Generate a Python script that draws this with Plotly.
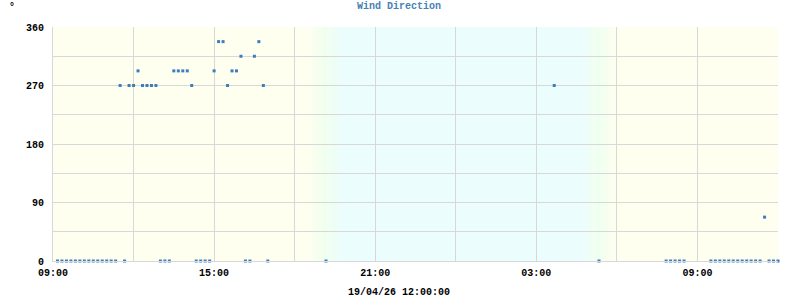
import plotly.graph_objects as go
from datetime import datetime, timedelta

# ---- data ----
times = [
    "2026-04-18 09:10", "2026-04-18 09:20", "2026-04-18 09:30", "2026-04-18 09:40",
    "2026-04-18 09:50", "2026-04-18 10:00", "2026-04-18 10:10", "2026-04-18 10:20",
    "2026-04-18 10:30", "2026-04-18 10:40", "2026-04-18 10:50", "2026-04-18 11:00",
    "2026-04-18 11:10", "2026-04-18 11:20", "2026-04-18 11:30", "2026-04-18 11:40",
    "2026-04-18 11:50", "2026-04-18 12:00", "2026-04-18 12:10", "2026-04-18 12:20",
    "2026-04-18 12:30", "2026-04-18 12:40", "2026-04-18 12:50", "2026-04-18 13:00",
    "2026-04-18 13:10", "2026-04-18 13:20", "2026-04-18 13:30", "2026-04-18 13:40",
    "2026-04-18 13:50", "2026-04-18 14:00", "2026-04-18 14:10", "2026-04-18 14:20",
    "2026-04-18 14:30", "2026-04-18 14:40", "2026-04-18 14:50", "2026-04-18 15:00",
    "2026-04-18 15:10", "2026-04-18 15:20", "2026-04-18 15:30", "2026-04-18 15:40",
    "2026-04-18 15:50", "2026-04-18 16:00", "2026-04-18 16:10", "2026-04-18 16:20",
    "2026-04-18 16:30", "2026-04-18 16:40", "2026-04-18 16:50", "2026-04-18 17:00",
    "2026-04-18 19:10",
    "2026-04-19 03:40",
    "2026-04-19 05:20",
    "2026-04-19 07:50", "2026-04-19 08:00", "2026-04-19 08:10", "2026-04-19 08:20",
    "2026-04-19 08:30",
    "2026-04-19 09:30", "2026-04-19 09:40", "2026-04-19 09:50", "2026-04-19 10:00",
    "2026-04-19 10:10", "2026-04-19 10:20", "2026-04-19 10:30", "2026-04-19 10:40",
    "2026-04-19 10:50", "2026-04-19 11:00", "2026-04-19 11:10", "2026-04-19 11:20",
    "2026-04-19 11:30", "2026-04-19 11:40", "2026-04-19 11:50", "2026-04-19 12:00",
]
direction = [
    0, 0, 0, 0, 0, 0, 0, 0, 0, 0, 0, 0, 0, 0,
    270, 0, 270, 270, 292.5, 270, 270, 270, 270, 0, 0, 0,
    292.5, 292.5, 292.5, 292.5, 270, 0, 0, 0, 0, 292.5, 337.5, 337.5,
    270, 292.5, 292.5, 315, 0, 0, 315, 337.5, 270, 0,
    0,
    270,
    0,
    0, 0, 0, 0, 0,
    0, 0, 0, 0, 0, 0, 0, 0, 0, 0, 0, 0,
    67.5, 0, 0, 0,
]
x_tickvals = [
    "2026-04-18 09:00", "2026-04-18 12:00", "2026-04-18 15:00", "2026-04-18 18:00",
    "2026-04-18 21:00", "2026-04-19 00:00", "2026-04-19 03:00", "2026-04-19 06:00",
    "2026-04-19 09:00", "2026-04-19 12:00",
]
x_ticktext = ["09:00", "", "15:00", "", "21:00", "", "03:00", "", "09:00", ""]
y_tickvals = [0, 45, 90, 135, 180, 225, 270, 315, 360]
y_ticktext = ["0", "", "90", "", "180", "", "270", "", "360"]
x_start = "2026-04-18 09:00"
x_end = "2026-04-19 12:00"
date_label = "19/04/26 12:00:00"

# ---- styling ----
DAY = (255, 255, 240)
MID = (239, 255, 239)
NIGHT = (236, 253, 253)
FONT = "Liberation Mono, Courier New, monospace"

def mix(a, b, t):
    return "rgb(%d,%d,%d)" % tuple(round(a[i] + (b[i] - a[i]) * t) for i in range(3))

fmt = "%Y-%m-%d %H:%M:%S"
def dt(s):
    return datetime.strptime(s, "%Y-%m-%d %H:%M")

shapes = []
# night base
shapes.append(dict(type="rect", xref="x", yref="paper", layer="below",
                   x0="2026-04-18 19:40", x1="2026-04-19 04:50", y0=0, y1=1,
                   fillcolor=mix(NIGHT, NIGHT, 0), line=dict(width=0)))

def gradient(start, end, forward):
    s, e = dt(start), dt(end)
    n = 30
    span = (e - s) / n
    for i in range(n):
        t = (i + 0.5) / n
        if not forward:
            t = 1 - t
        if t < 0.5:
            c = mix(DAY, MID, t / 0.5)
        else:
            c = mix(MID, NIGHT, (t - 0.5) / 0.5)
        a = s + span * i
        b = s + span * (i + 1) + timedelta(seconds=20)
        shapes.append(dict(type="rect", xref="x", yref="paper", layer="below",
                           x0=a.strftime(fmt), x1=b.strftime(fmt), y0=0, y1=1,
                           fillcolor=c, line=dict(width=0)))

gradient("2026-04-18 18:30", "2026-04-18 19:45", True)
gradient("2026-04-19 04:45", "2026-04-19 06:00", False)

fig = go.Figure()
fig.add_trace(go.Scatter(
    x=times, y=direction, mode="markers",
    marker=dict(symbol="square", size=3, color="#3b7dbd", line=dict(width=0)),
    cliponaxis=False, hoverinfo="x+y",
))

tickfont = dict(family=FONT, size=10, color="black", weight="bold")
fig.update_layout(
    width=800, height=300,
    margin=dict(l=53, r=22, t=27, b=39),
    paper_bgcolor="white",
    plot_bgcolor="rgb(255,255,240)",
    showlegend=False,
    shapes=shapes,
    xaxis=dict(
        type="date", range=[x_start, x_end],
        tickmode="array", tickvals=x_tickvals, ticktext=x_ticktext,
        showgrid=True, gridcolor="#d8d8d8", gridwidth=1,
        showline=True, linecolor="#d8d8d8", linewidth=1,
        zeroline=False, ticks="", tickfont=tickfont,
        ticklabelstandoff=2,
    ),
    yaxis=dict(
        range=[0, 360],
        tickmode="array", tickvals=y_tickvals, ticktext=y_ticktext,
        showgrid=True, gridcolor="#d8d8d8", gridwidth=1,
        showline=True, linecolor="#d8d8d8", linewidth=1,
        zeroline=False, ticks="", tickfont=tickfont,
        ticklabelstandoff=6,
    ),
    annotations=[
        dict(text="Wind Direction", xref="paper", yref="paper",
             x=(399 - 53) / 725, y=(261 - 6) / 234, xanchor="center", yanchor="middle",
             showarrow=False, font=dict(family=FONT, size=10, color="#4682b4", weight="bold")),
        dict(text="°", xref="paper", yref="paper",
             x=(12 - 53) / 725, y=(261 - 7) / 234, xanchor="center", yanchor="middle",
             showarrow=False, font=dict(family=FONT, size=10, color="black", weight="bold")),
        dict(text=date_label, xref="paper", yref="paper",
             x=(399 - 53) / 725, y=(261 - 292) / 234, xanchor="center", yanchor="middle",
             showarrow=False, font=dict(family=FONT, size=10, color="black", weight="bold")),
    ],
)

fig.write_html("out.html")
